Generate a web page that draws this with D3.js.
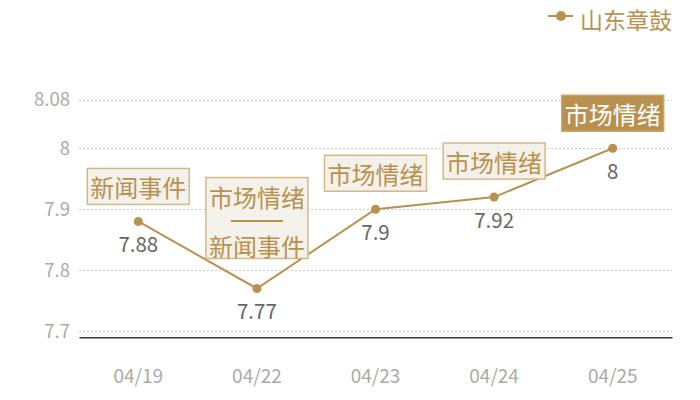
<!DOCTYPE html>
<html><head><meta charset="utf-8">
<script src="https://cdn.jsdelivr.net/npm/d3@7/dist/d3.min.js"></script>
<style>body{margin:0;background:#fff}svg{display:block}</style>
</head><body><svg id="c" width="700" height="400"></svg>
<script>
const categories = ["04/19","04/22","04/23","04/24","04/25"];
const values = [7.88, 7.77, 7.9, 7.92, 8];
const yTicks = [7.7, 7.8, 7.9, 8, 8.08];
const annotations = [["新闻事件"], ["市场情绪","——","新闻事件"], ["市场情绪"], ["市场情绪"], ["市场情绪"]];
const highlighted = [false, false, false, false, true];
const seriesName = "山东章鼓";

(function(){
const gold = "#b9914f";
const font = "'Noto Sans CJK SC','Noto Sans',sans-serif";
const svg = d3.select("#c");
const pLeft = 79, pRight = 672, pTop = 99.5, pBottom = 337.3;

const x = d3.scaleBand().domain(categories).range([pLeft, pRight]);
const y = d3.scaleLinear().domain([7.69, 8.08]).range([pBottom, pTop]);
const cx = d => x(d) + x.bandwidth() / 2;

// grid
svg.append("g").selectAll("line").data(yTicks).join("line")
  .attr("x1", pLeft).attr("x2", pRight)
  .attr("y1", d => Math.round(y(d)) + 0.5).attr("y2", d => Math.round(y(d)) + 0.5)
  .attr("stroke", "#cfcfcf").attr("stroke-dasharray", "2,2");

// y axis labels
const yAxis = svg.append("g").attr("transform", `translate(${pLeft},0)`)
  .call(d3.axisLeft(y).tickValues(yTicks).tickSize(0).tickPadding(9).tickFormat(d3.format("~g")));
yAxis.select(".domain").remove();
yAxis.selectAll("text").attr("fill", "#aaaaaa").style("font-size", "18.5px").style("font-family", font);

// x axis
const xAxis = svg.append("g").attr("transform", `translate(0,${pBottom})`)
  .call(d3.axisBottom(x).tickSize(0).tickPadding(32));
xAxis.select(".domain").attr("stroke", "#333").attr("stroke-width", 1.5);
xAxis.selectAll("text").attr("fill", "#aaaaaa").style("font-size", "19px").style("font-family", font);

// line
const line = d3.line().x((d, i) => cx(categories[i])).y(d => y(d));
svg.append("path").datum(values).attr("d", line)
  .attr("fill", "none").attr("stroke", gold).attr("stroke-width", 2);

svg.append("g").selectAll("circle").data(values).join("circle")
  .attr("cx", (d, i) => cx(categories[i])).attr("cy", d => y(d)).attr("r", 4.5)
  .attr("fill", gold);

// value labels
svg.append("g").selectAll("text").data(values).join("text")
  .attr("x", (d, i) => cx(categories[i])).attr("y", d => y(d) + 21.5)
  .attr("text-anchor", "middle").attr("dominant-baseline", "central")
  .attr("fill", "#666").style("font-size", "20.5px").style("font-family", font)
  .text(d => d3.format("~g")(d));

// annotation boxes
const boxW = 102, lineH = 49, gapArr = [17, 30, 18, 18, 17];
annotations.forEach((lines, i) => {
  const px = cx(categories[i]), py = y(values[i]);
  const h = lines.length === 1 ? 36 : 81;
  const b = py - gapArr[i];
  const g = svg.append("g");
  const hl = highlighted[i];
  g.append("rect").attr("x", px - boxW / 2).attr("y", b - h).attr("width", boxW).attr("height", h)
    .attr("fill", hl ? gold : "#f4f0ea").attr("stroke", hl ? "#c9a66b" : "#d3b888").attr("stroke-width", 1.5);
  const startY = b - h + (lines.length === 1 ? h / 2 : 19);
  lines.forEach((t, j) => {
    const ty = startY + j * (lineH / 2);
    if (t === "——") {
      g.append("line").attr("x1", px - 26).attr("x2", px + 26).attr("y1", ty).attr("y2", ty)
        .attr("stroke", gold).attr("stroke-width", 2);
    } else {
      g.append("text").attr("x", px).attr("y", ty)
        .attr("text-anchor", "middle").attr("dominant-baseline", "central")
        .attr("fill", hl ? "#fff" : gold).style("font-size", "24px").style("font-family", font)
        .text(t);
    }
  });
});

// legend
const lg = svg.append("g");
lg.append("line").attr("x1", 548).attr("x2", 573).attr("y1", 16).attr("y2", 16).attr("stroke", gold).attr("stroke-width", 2);
lg.append("circle").attr("cx", 561).attr("cy", 16).attr("r", 5).attr("fill", gold);
lg.append("text").attr("x", 580).attr("y", 19).attr("dominant-baseline", "central")
  .attr("fill", gold).style("font-size", "23px").style("font-family", font).text(seriesName);
})();
</script></body></html>
